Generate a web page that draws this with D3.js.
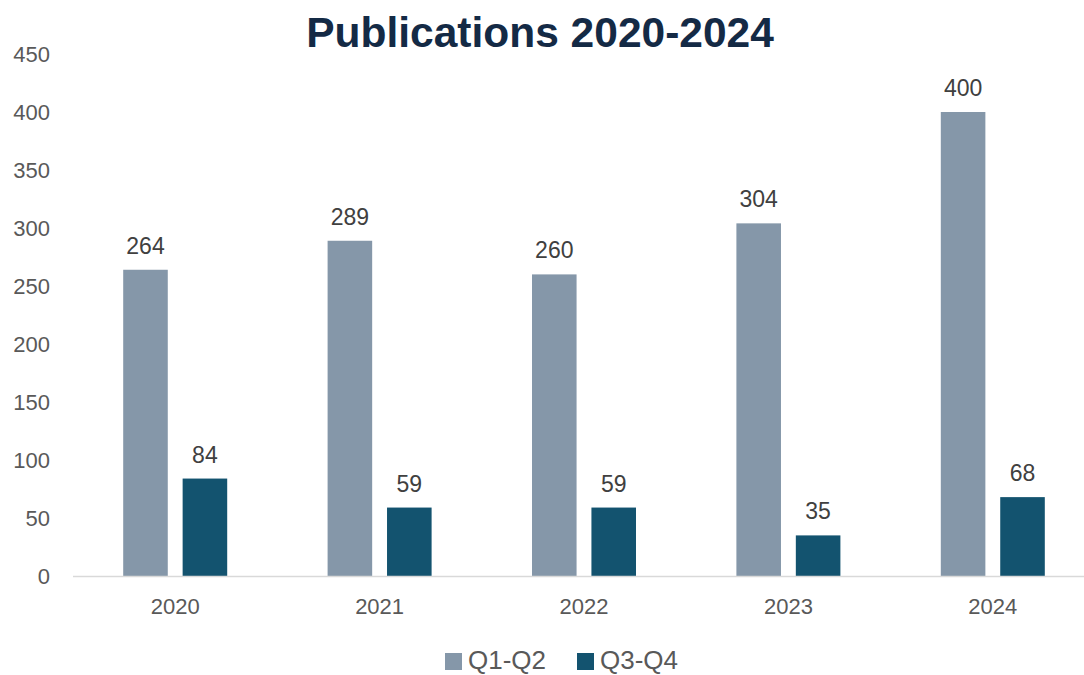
<!DOCTYPE html>
<html><head><meta charset="utf-8">
<script src="https://cdn.jsdelivr.net/npm/d3@7"></script>
<style>body{margin:0;background:#fff;} svg{display:block;}</style>
</head><body>
<svg id="chart" width="1084" height="675"></svg>
<script>
const categories = ["2020", "2021", "2022", "2023", "2024"];
const seriesNames = ["Q1-Q2", "Q3-Q4"];
const q1q2 = [264, 289, 260, 304, 400];
const q3q4 = [84, 59, 59, 35, 68];
const yTicks = [0, 50, 100, 150, 200, 250, 300, 350, 400, 450];
const colors = ["#8597a9", "#13536f"];

const svg = d3.select("#chart");
const font = "'Liberation Sans', Arial, sans-serif";
const x0 = d3.scaleBand().domain(categories).range([73, 1095]).padding(0);
const x1 = d3.scaleBand().domain(seriesNames).range([0, 104]).paddingInner(0.25).paddingOuter(0);
const y = d3.scaleLinear().domain([0, 450]).range([576, 54]);

svg.append("text").attr("x", 540).attr("y", 47).attr("text-anchor", "middle")
  .attr("font-family", font).attr("font-weight", "bold").attr("font-size", 42.5)
  .attr("fill", "#142a45").text("Publications 2020-2024");

// y axis labels
const yAxis = d3.axisLeft(y).tickValues(yTicks).tickSize(0).tickPadding(0);
const yg = svg.append("g").attr("transform", "translate(50,0)").call(yAxis);
yg.select(".domain").remove();
yg.selectAll("text").attr("font-family", font).attr("font-size", 22).attr("fill", "#595959").attr("dy", "0.35em");

const data = categories.map((c, i) => ({cat: c, vals: [q1q2[i], q3q4[i]]}));
const groups = svg.selectAll("g.cat").data(data).join("g").attr("class", "cat")
  .attr("transform", d => `translate(${x0(d.cat) + x0.bandwidth()/2 - 52},0)`);
groups.selectAll("rect").data(d => d.vals.map((v, j) => ({s: seriesNames[j], v, j})))
  .join("rect")
  .attr("x", d => x1(d.s)).attr("width", x1.bandwidth())
  .attr("y", d => y(d.v)).attr("height", d => y(0) - y(d.v))
  .attr("fill", d => colors[d.j]);
groups.selectAll("text.lbl").data(d => d.vals.map((v, j) => ({s: seriesNames[j], v, j})))
  .join("text").attr("class", "lbl")
  .attr("x", d => x1(d.s) + x1.bandwidth()/2).attr("y", d => y(d.v) - 16)
  .attr("text-anchor", "middle").attr("font-family", font).attr("font-size", 23)
  .attr("fill", "#404040").text(d => d.v);

// baseline
svg.append("line").attr("x1", 73).attr("x2", 1084).attr("y1", y(0) + 0.5).attr("y2", y(0) + 0.5)
  .attr("stroke", "#d9d9d9").attr("stroke-width", 1.5);

// x axis
const xAxis = d3.axisBottom(x0).tickSize(0).tickPadding(0);
const xg = svg.append("g").attr("transform", `translate(0,${y(0)})`).call(xAxis);
xg.select(".domain").remove();
xg.selectAll("text").attr("font-family", font).attr("font-size", 22).attr("fill", "#595959").attr("dy", null).attr("y", 38);

// legend
const legendItems = [{name: seriesNames[0], x: 445, c: colors[0]}, {name: seriesNames[1], x: 577, c: colors[1]}];
const lg = svg.append("g");
legendItems.forEach(it => {
  lg.append("rect").attr("x", it.x).attr("y", 653).attr("width", 17).attr("height", 17).attr("fill", it.c);
  lg.append("text").attr("x", it.x + 23).attr("y", 669).attr("font-family", font).attr("font-size", 26)
    .attr("fill", "#595959").text(it.name);
});
</script>
</body></html>
